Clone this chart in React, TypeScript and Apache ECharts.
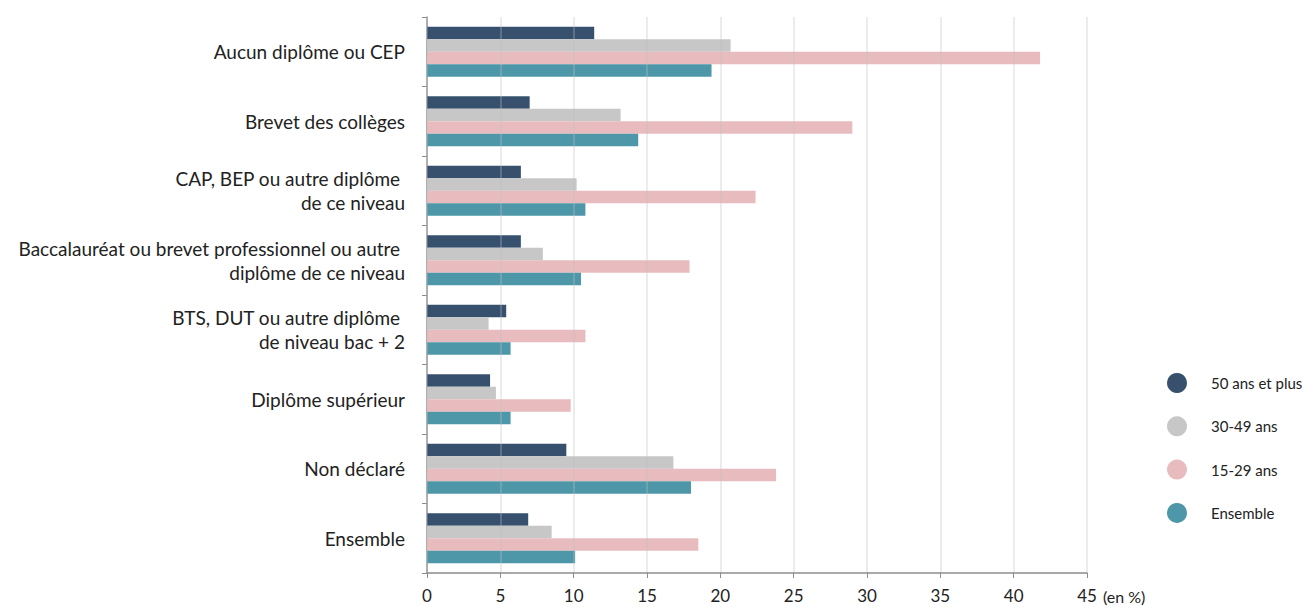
import React, { useEffect, useRef } from "react";
import * as echarts from "echarts";

const categories = [
  "Aucun diplôme ou CEP",
  "Brevet des collèges",
  "CAP, BEP ou autre diplôme\u00a0\nde ce niveau",
  "Baccalauréat ou brevet professionnel ou autre\u00a0\ndiplôme de ce niveau",
  "BTS, DUT ou autre diplôme\u00a0\nde niveau bac + 2",
  "Diplôme supérieur",
  "Non déclaré",
  "Ensemble",
];

const seriesNames = ["50 ans et plus", "30-49 ans", "15-29 ans", "Ensemble"];
const seriesColors = ["#36506e", "#c7c7c7", "#e8bcbe", "#4e97a9"];

const v50plus = [11.4, 7.0, 6.4, 6.4, 5.4, 4.3, 9.5, 6.9];
const v30_49 = [20.7, 13.2, 10.2, 7.9, 4.2, 4.7, 16.8, 8.5];
const v15_29 = [41.8, 29.0, 22.4, 17.9, 10.8, 9.8, 23.8, 18.5];
const vEnsemble = [19.4, 14.4, 10.8, 10.5, 5.7, 5.7, 18.0, 10.1];

const seriesValues = [v50plus, v30_49, v15_29, vEnsemble];

const xTicks = { min: 0, max: 45, interval: 5 };

const FONT = "Lato";

export default function App() {
  const ref = useRef<HTMLDivElement>(null);
  useEffect(() => {
    if (!ref.current) return;
    const chart = echarts.init(ref.current, null, { renderer: "svg" });
    chart.setOption({
      animation: false,
      textStyle: { fontFamily: FONT },
      grid: { left: 427, right: 222, top: 17, bottom: 35, containLabel: false },
      legend: {
        orient: "vertical",
        left: 1162,
        top: 368,
        icon: "circle",
        itemWidth: 20,
        itemHeight: 22,
        itemGap: 23.3,
        data: seriesNames,
        textStyle: { fontFamily: FONT, fontSize: 15, color: "#222", padding: [0, 0, 0, 19] },
      },
      xAxis: {
        type: "value",
        min: xTicks.min,
        max: xTicks.max,
        interval: xTicks.interval,
        z: 3,
        name: "(en %)",
        nameLocation: "end",
        nameGap: 16,
        nameTextStyle: {
          fontFamily: FONT,
          fontSize: 16,
          color: "#222",
          verticalAlign: "top",
          align: "left",
          padding: [15, 0, 0, 0],
        },
        axisLine: { show: true, lineStyle: { color: "#8c8c8c", width: 1.5 } },
        axisTick: { show: true, length: 5, lineStyle: { color: "#8c8c8c" } },
        axisLabel: { fontFamily: FONT, fontSize: 17, color: "#222", margin: 14 },
        splitLine: { show: true, lineStyle: { color: "rgba(190,190,190,0.4)", width: 1.5 } },
      },
      yAxis: {
        type: "category",
        data: categories,
        inverse: true,
        axisLine: { show: true, lineStyle: { color: "#8c8c8c", width: 1.5 } },
        axisTick: { show: true, length: 5, inside: false, lineStyle: { color: "#8c8c8c" } },
        axisLabel: {
          fontFamily: FONT,
          fontSize: 19,
          color: "#222",
          margin: 22,
          lineHeight: 24,
          align: "right",
          padding: [2, 0, 0, 0],
        },
      },
      series: seriesNames.map((name, i) => ({
        name,
        type: "bar",
        data: seriesValues[i],
        barGap: "0%",
        barCategoryGap: "28%",
        itemStyle: { color: seriesColors[i] },
      })),
    });
    return () => chart.dispose();
  }, []);
  return <div ref={ref} style={{ width: 1309, height: 608, position: "absolute", left: 0, top: 0 }} />;
}
